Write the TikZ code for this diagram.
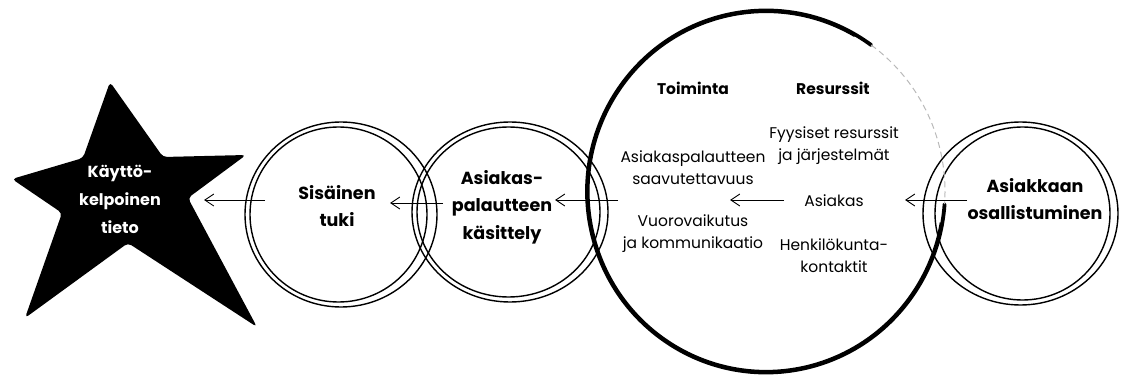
\documentclass[tikz,border=0pt]{standalone}
\usepackage{fontspec}
\setmainfont{Poppins}
\usetikzlibrary{arrows.meta}
\begin{document}
\begin{tikzpicture}[x=1pt,y=-1pt,
 ring/.style={line width=1.4pt},
 link/.style={line width=0.9pt,-{Straight Barb[length=9pt,width=12pt]}},
 head/.style={font=\bfseries\fontsize{17.5}{27.5}\selectfont, align=center, inner sep=0pt},
 starhead/.style={font=\bfseries\fontsize{16}{28}\selectfont, align=center, inner sep=0pt, text=white},
 sub/.style={font=\bfseries\fontsize{15.5}{18}\selectfont, inner sep=0pt},
 body/.style={font=\fontsize{15.5}{22}\selectfont, align=center, inner sep=0pt},
 bigring/.style={line width=3.8pt, line cap=round},
 faded/.style={line width=1pt, gray!55, dash pattern=on 6pt off 4pt},
]
\useasboundingbox (0,0) rectangle (1122,377);
% star
\fill[black, rounded corners=4pt] (110,82) -- (163,157) -- (246,155) -- (188,198) -- (257,327) -- (128,243) -- (25,318) -- (62,213) -- (12,179) -- (83,158) -- cycle;
% double rings
\draw[ring] (341,214.5) ellipse[x radius=96, y radius=92.5];
\draw[ring] (338.5,214.5) ellipse[x radius=88.5, y radius=87.5];
\draw[ring] (510,212) ellipse[x radius=98, y radius=90];
\draw[ring] (508.5,212) ellipse[x radius=91.5, y radius=85];
\draw[ring] (1020.5,213.5) ellipse[x radius=97.5, y radius=91.5];
\draw[ring] (1022.5,213.5) ellipse[x radius=87.5, y radius=86.5];
% big rough ring
\coordinate (C) at (766,191.5);
\draw[bigring] ([shift={(-54:179 and 181)}]C) arc[start angle=-54, end angle=-356, x radius=179, y radius=181];
\draw[line width=1.2pt] ([shift={(-60:177 and 179)}]C) arc[start angle=-60, end angle=-350, x radius=177, y radius=179];
\draw[faded] ([shift={(-54:179 and 181)}]C) arc[start angle=-54, end angle=4, x radius=179, y radius=181];
% texts
\node[starhead] (kayt) at (120,199) {Käyttö-\\kelpoinen\\tieto};
\node[head] (sis) at (337,206) {Sisäinen\\tuki};
\node[head] (apk) at (502,207) {Asiakas-\\palautteen\\käsittely};
\node[head] (osal) at (1035,199) {Asiakkaan\\osallistuminen};
\node[sub] (toim) at (693,88) {Toiminta};
\node[sub] (res) at (833,88) {Resurssit};
\node[body] (fyys) at (834,146) {Fyysiset resurssit\\ja järjestelmät};
\node[body] (saav) at (693,168) {Asiakaspalautteen\\saavutettavuus};
\node[body] (asiakas) at (834,201) {Asiakas};
\node[body] (vuoro) at (693,234) {Vuorovaikutus\\ja kommunikaatio};
\node[body] (henk) at (834,256) {Henkilökunta-\\kontaktit};
% connectors
\coordinate (t1) at (265,200); \coordinate (h1) at (204,200);
\coordinate (t2) at (443,203); \coordinate (h2) at (390,203);
\coordinate (t3) at (618,200); \coordinate (h3) at (555,200);
\coordinate (t4) at (784,200); \coordinate (h4) at (730,200);
\coordinate (t5) at (967,200); \coordinate (h5) at (905,200);
\draw[link] (t1) -- (h1);
\draw[link] (t2) -- (h2);
\draw[link] (t3) -- (h3);
\draw[link] (t4) -- (h4);
\draw[link] (t5) -- (h5);
\end{tikzpicture}
\end{document}
